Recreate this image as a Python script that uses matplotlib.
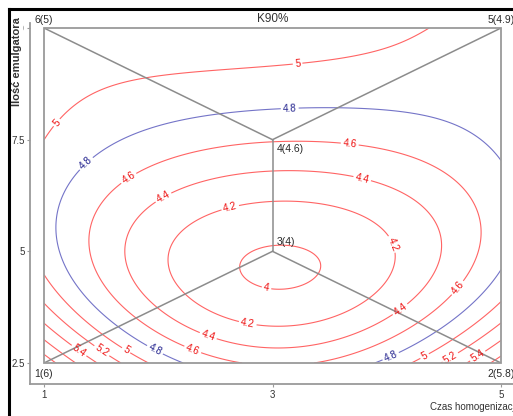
import numpy as np
import matplotlib
matplotlib.use("Agg")
import matplotlib.pyplot as plt
from matplotlib.patches import Rectangle
from matplotlib.lines import Line2D

plt.rcParams['font.family'] = ['Liberation Sans', 'DejaVu Sans']

# ---- data ----
x_grid = [1.0, 1.5, 2.0, 2.5, 3.0, 3.5, 4.0, 4.5, 5.0]
y_grid = [2.5, 3.25, 4.0, 4.75, 5.5, 6.25, 7.0, 7.75, 8.5, 9.25, 10.0]
z_y2_50 = [5.95, 5.37, 4.95, 4.70, 4.50, 4.64, 4.85, 5.22, 5.68]
z_y3_25 = [5.42, 4.91, 4.57, 4.31, 4.22, 4.32, 4.55, 4.90, 5.28]
z_y4_00 = [5.18, 4.69, 4.35, 4.12, 4.03, 4.07, 4.22, 4.48, 4.95]
z_y4_75 = [4.95, 4.53, 4.25, 4.06, 3.975, 4.015, 4.16, 4.40, 4.78]
z_y5_50 = [4.88, 4.55, 4.29, 4.12, 4.06, 4.09, 4.21, 4.42, 4.72]
z_y6_25 = [4.89, 4.61, 4.40, 4.29, 4.24, 4.26, 4.35, 4.53, 4.74]
z_y7_00 = [4.96, 4.76, 4.61, 4.51, 4.46, 4.47, 4.54, 4.65, 4.81]
z_y7_75 = [5.02, 4.90, 4.79, 4.71, 4.67, 4.67, 4.73, 4.78, 4.84]
z_y8_50 = [5.04, 4.99, 4.93, 4.89, 4.87, 4.86, 4.87, 4.87, 4.88]
z_y9_25 = [5.08, 5.07, 5.05, 5.04, 5.02, 5.00, 4.98, 4.93, 4.89]
z_y10_0 = [5.10, 5.12, 5.14, 5.15, 5.15, 5.12, 5.04, 4.96, 4.92]

levels = [4.0, 4.2, 4.4, 4.6, 4.8, 5.0, 5.2, 5.4, 5.6, 5.8]
label_levels = [4.0, 4.2, 4.4, 4.6, 4.8, 5.0, 5.2, 5.4]

# design points
pt_x = [1, 5, 3, 3, 5, 1]
pt_y = [2.5, 2.5, 5.0, 7.5, 10.0, 10.0]
pt_text = ["1(6)", "2(5.8)", "3(4)", "4(4.6)", "5(4.9)", "6(5)"]
edges = [(5, 3), (4, 3), (3, 2), (2, 0), (2, 1)]

title = "K90%"
xlabel = "Czas homogenizacji"
ylabel = "Ilość emulgatora"
xticks = [1, 3, 5]
yticks = [2.5, 5, 7.5, 10]
yticklabels = ["2.5", "5", "7.5", "10"]

# ---- smooth response surface fitted (least squares) to the read grid ----
Z = np.array([z_y2_50, z_y3_25, z_y4_00, z_y4_75, z_y5_50, z_y6_25,
              z_y7_00, z_y7_75, z_y8_50, z_y9_25, z_y10_0])
gx, gy = np.meshgrid(x_grid, y_grid)
DEG = 5


def design(xx, yy):
    uu = (np.ravel(xx) - 3.0) / 2.0
    vv = (np.ravel(yy) - 6.25) / 3.75
    return np.column_stack([uu ** i * vv ** j for i in range(DEG + 1)
                            for j in range(DEG + 1 - i)])


coef, *_ = np.linalg.lstsq(design(gx, gy), Z.ravel(), rcond=None)
fx, fy = np.meshgrid(np.linspace(1, 5, 241), np.linspace(2.5, 10, 241))
fz = (design(fx, fy) @ coef).reshape(fx.shape)

# ---- figure ----
W, H = 513, 416
fig = plt.figure(figsize=(W / 100, H / 100), dpi=100)
fig.patch.set_facecolor('white')
ax = fig.add_axes([44 / W, 1 - 363 / H, 457 / W, 335 / H])
ax.set_xlim(1, 5)
ax.set_ylim(2.5, 10)

RED_LINE = '#ff6464'
BLUE_LINE = '#7474c8'
RED_TXT = '#ee1111'
BLUE_TXT = '#262690'
line_cols = [BLUE_LINE if abs(l - 4.8) < 1e-6 else RED_LINE for l in levels]
cs = ax.contour(fx, fy, fz, levels=levels, colors=line_cols, linewidths=0.8, zorder=2)

manual = [(2.95, 4.21),
          (2.63, 5.98), (4.04, 5.15), (2.78, 3.35),
          (2.04, 6.23), (3.79, 6.68), (2.43, 3.06), (4.14, 3.62),
          (1.73, 6.68), (3.68, 7.5), (2.30, 2.79), (4.64, 4.14),
          (1.36, 6.99), (3.15, 8.25), (1.97, 2.79), (4.04, 2.62),
          (1.14, 7.82), (3.22, 9.19), (1.72, 2.79), (4.33, 2.66),
          (1.51, 2.79), (4.55, 2.65),
          (1.31, 2.79), (4.79, 2.68)]
txts = ax.clabel(cs, levels=label_levels, inline=True, inline_spacing=2,
                 fontsize=7.2, fmt='%g', manual=manual)
for t in txts:
    val = float(t.get_text())
    t.set_color(BLUE_TXT if abs(val - 4.8) < 1e-6 else RED_TXT)

# design lines
for a, b in edges:
    ax.plot([pt_x[a], pt_x[b]], [pt_y[a], pt_y[b]], color='#8c8c8c', lw=1.1, zorder=3)

# box
ax.add_patch(Rectangle((1, 2.5), 4, 7.5, fill=False, edgecolor='#9a9a9a', lw=1.3,
                       clip_on=False, zorder=4))

# point labels
offs = {0: (0, -4, 'center', 'top'), 1: (0, -4, 'center', 'top'),
        2: (3, 3, 'left', 'bottom'), 3: (3, -3, 'left', 'top'),
        4: (0, 2, 'center', 'bottom'), 5: (0, 2, 'center', 'bottom')}
for k in range(len(pt_x)):
    dx, dy, ha, va = offs[k]
    ax.annotate(pt_text[k], (pt_x[k], pt_y[k]), xytext=(dx, dy), textcoords='offset points',
                ha=ha, va=va, fontsize=7.5, color='#2a2a2a', annotation_clip=False, zorder=5)

ax.annotate(title, (3, 10), xytext=(0, 2), textcoords='offset points',
            ha='center', va='bottom', fontsize=8.5, color='#333333', annotation_clip=False)

# spines: detached L-shaped axes
for s in ['top', 'right']:
    ax.spines[s].set_visible(False)
ax.spines['left'].set_position(('outward', 14 * 0.72))
ax.spines['bottom'].set_position(('outward', 21 * 0.72))
ax.spines['left'].set_bounds(2.5 - 21 / 44.67, 10 + 5 / 44.67)
ax.spines['bottom'].set_bounds(1 - 14 / 114.25, 5.15)
for s in ['left', 'bottom']:
    ax.spines[s].set_color('#9a9a9a')
    ax.spines[s].set_linewidth(1.3)
ax.set_xticks(xticks)
ax.set_xticklabels([str(t) for t in xticks])
ax.set_yticks(yticks)
ax.set_yticklabels(yticklabels)
ax.tick_params(direction='out', length=2.5, width=0.8, color='#9a9a9a',
               labelsize=7, labelcolor='#333333', pad=1.5)

fig.text(17 / W, 1 - 62 / H, ylabel, rotation=90, ha='center', va='center',
         fontsize=8, fontweight='bold', color='#333333', zorder=10,
         bbox=dict(boxstyle='square,pad=0.05', fc='white', ec='none'))
fig.text(430 / W, 1 - 407 / H, xlabel, ha='left', va='center', fontsize=7, color='#333333')

# black frame (top and left)
fig.add_artist(Line2D([9 / W, 1], [1 - 9 / H, 1 - 9 / H], color='black', lw=2.2,
                      transform=fig.transFigure))
fig.add_artist(Line2D([9 / W, 9 / W], [0, 1 - 9 / H], color='black', lw=2.2,
                      transform=fig.transFigure))

fig.savefig('out.png', dpi=100)
